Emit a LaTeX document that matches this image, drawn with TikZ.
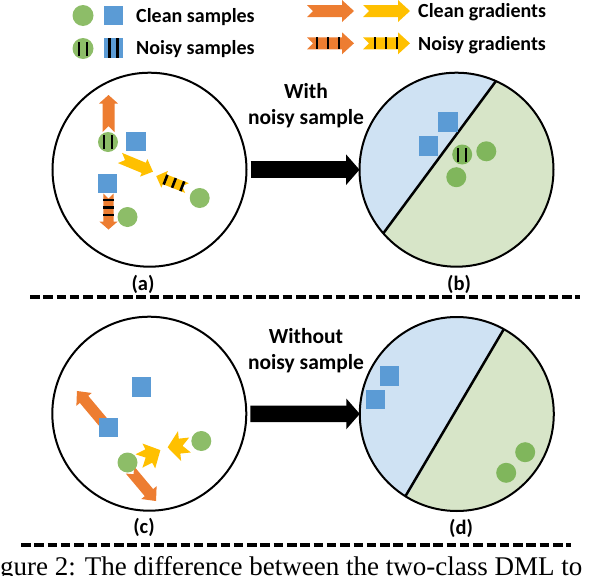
\documentclass[tikz,border=0pt]{standalone}
\usepackage{fontspec}
\newfontfamily\labfont{Carlito}
\newfontfamily\capfont{Liberation Serif}
\usetikzlibrary{positioning,arrows.meta,calc,backgrounds}
\definecolor{sgreen}{RGB}{141,189,104}
\definecolor{sgreenb}{RGB}{128,182,92}
\definecolor{sblue}{RGB}{91,155,213}
\definecolor{gorange}{RGB}{237,125,49}
\definecolor{gyellow}{RGB}{255,192,0}
\definecolor{bgblue}{RGB}{207,226,243}
\definecolor{bggreen}{RGB}{215,229,200}
% block arrow with notched tail, drawn in the pic's own frame
\newcommand{\garrowshape}{%
  \fill[\gcol] (0pt,-\gbody pt) -- (\glen pt-\ghead pt,-\gbody pt)
    -- (\glen pt-\ghead pt,-\gwide pt) -- (\glen pt,0pt)
    -- (\glen pt-\ghead pt,\gwide pt) -- (\glen pt-\ghead pt,\gbody pt)
    -- (0pt,\gbody pt) -- (\gbody pt,0pt) -- cycle;}

\begin{document}
\begin{tikzpicture}[
  x=1pt, y=-1pt,
  font=\labfont\bfseries\fontsize{20}{24}\selectfont,
  clean/.style={circle, fill=sgreen, minimum size=20pt, inner sep=0pt},
  sq/.style={rectangle, fill=sblue, minimum size=19.5pt, inner sep=0pt},
  noisy/.style={path picture={
    \foreach \dx in {-4pt,4pt}
      \fill[black] ([shift={(\dx-1.2pt,-#1)}]path picture bounding box.center)
        rectangle ([shift={(\dx+1.2pt,#1)}]path picture bounding box.center);}},
  noisy/.default=7pt,
  panel/.style={circle, draw, line width=2pt, minimum size=194pt, inner sep=0pt, outer sep=0pt},
  divline/.style={line width=2.5pt},
  bigarr/.style={line width=16.5pt, -{Triangle[length=13.5pt,width=30pt]}, shorten <=4pt},
  sepline/.style={line width=4pt, dash pattern=on 9.5pt off 3.8pt},
  lab/.style={inner sep=0pt, font=\labfont\bfseries\fontsize{20.5}{24}\selectfont},
  legtxt/.style={inner sep=0pt, anchor=west},
  midtxt/.style={inner sep=0pt, align=center, font=\labfont\bfseries\fontsize{21.5}{26}\selectfont},
  gcol/.store in=\gcol, glen/.store in=\glen, ghead/.store in=\ghead,
  gwide/.store in=\gwide, gbody/.store in=\gbody, gstripes/.store in=\gstripes,
  gcol=gorange, glen=47, ghead=12, gwide=11, gbody=6, gstripes={10,21,32},
  garrow/.pic={\garrowshape},
  gnoisy/.pic={
    \garrowshape
    \foreach \s in \gstripes
      \fill[black] (\s pt-1.3pt,-\gbody pt) rectangle (\s pt+1.3pt,\gbody pt);}
]
\useasboundingbox (0,0) rectangle (598,576);
\clip (0,0) rectangle (598,576);

% legend
\node[clean, minimum size=21pt] (lc) at (83,15.5) {};
\node[sq] (ls) at (113.3,15.3) {};
\node[legtxt] (tcs) at (136,17) {Clean samples};
\node[clean, minimum size=21pt, noisy=7pt] (lnc) at (83,48.5) {};
\node[sq, noisy=10pt] (lns) at (113.3,48) {};
\node[legtxt] (tns) at (136,48.7) {Noisy samples};
\pic[gcol=gorange] at (307,11) {garrow};
\pic[gcol=gyellow] at (363,11) {garrow};
\node[legtxt] (tcg) at (418,12.5) {Clean gradients};
\pic[gcol=gorange] at (307,43.3) {gnoisy};
\pic[gcol=gyellow, gstripes={12,23,34}] at (363,43.3) {gnoisy};
\node[legtxt] (tng) at (418,44.8) {Noisy gradients};

% (a) and (b)
\node[panel] (pa) at (149.5,169.7) {};
\pic[rotate=90, glen=37, ghead=8.5, gwide=9.5, gbody=6] at (108.5,132) {garrow};
\pic[rotate=-90, glen=36, ghead=8, gwide=9.2, gbody=5.2, gstripes={6.5,14,21.5}] at (108.5,193.5) {gnoisy};
\pic[gcol=gyellow, rotate=-22.5, glen=35.7, ghead=10, gwide=9.5, gbody=5.5] at (120,158) {garrow};
\pic[gcol=gyellow, rotate=158.8, glen=33, ghead=9, gwide=9, gbody=5.2, gstripes={5,14,23}] at (187,188) {gnoisy};
\node[clean, noisy] (a1) at (108,142) {};
\node[sq] (a2) at (136,141.7) {};
\node[sq] (a3) at (107.7,183.7) {};
\node[clean] (a4) at (199.7,198) {};
\node[clean] (a5) at (127.5,217) {};
\node[lab] (la) at (143,284) {(a)};

\node[panel] (pb) at (456.5,169.7) {};
\begin{scope}[on background layer]
  \fill[bggreen] (pb.center) circle[radius=97pt];
  \fill[bgblue] (pb.66) arc[start angle=66, end angle=221.6, radius=97pt] -- cycle;
\end{scope}
\draw[divline] (pb.66) -- (pb.221.6);
\node[sq] (b1) at (448,122.2) {};
\node[sq] (b2) at (428.3,146.2) {};
\node[clean, fill=sgreenb, noisy] (b3) at (462.2,154.5) {};
\node[clean, fill=sgreenb] (b4) at (486.3,151.3) {};
\node[clean, fill=sgreenb] (b5) at (456.3,177.2) {};
\node[lab] (lb) at (459,284) {(b)};

\draw[bigarr] (pa) -- (pb);
\node[midtxt] (tw) at (306,105.5) {With\\noisy sample};

\draw[sepline] (30,297) -- (580,297);

% (c) and (d)
\node[panel] (pc) at (149.3,413.7) {};
\pic[rotate=130, glen=40.5, ghead=11, gwide=10, gbody=5.5] at (103,422) {garrow};
\pic[rotate=-50, glen=40.5, ghead=11, gwide=10, gbody=5.5] at (130,470) {garrow};
\pic[gcol=gyellow, rotate=27, glen=24, ghead=13, gwide=14, gbody=7.5] at (139,461) {garrow};
\pic[gcol=gyellow, rotate=186, glen=22.5, ghead=12, gwide=15, gbody=7.5] at (190,445) {garrow};
\node[sq] (c1) at (141.3,387.2) {};
\node[sq] (c2) at (108.3,427.7) {};
\node[clean] (c3) at (127.5,462.5) {};
\node[clean] (c4) at (201.3,441) {};
\node[lab] (lc) at (144,527) {(c)};

\node[panel] (pd) at (456.8,414) {};
\begin{scope}[on background layer]
  \fill[bggreen] (pd.center) circle[radius=97pt];
  \fill[bgblue] (pd.61.3) arc[start angle=61.3, end angle=238.7, radius=97pt] -- cycle;
\end{scope}
\draw[divline] (pd.61.3) -- (pd.238.7);
\node[sq] (d1) at (389.5,375.8) {};
\node[sq] (d2) at (375.5,399.7) {};
\node[clean, fill=sgreenb] (d3) at (525.2,452.2) {};
\node[clean, fill=sgreenb] (d4) at (506.2,472.8) {};
\node[lab] (ld) at (461,528) {(d)};

\draw[bigarr] (pc) -- (pd);
\node[midtxt] (two) at (306,350.5) {Without\\noisy sample};

\draw[sepline] (21,545) -- (571,545);

\node[anchor=base west, inner sep=0pt, font=\capfont\fontsize{27}{32}\selectfont] (cap) at (-22.5,575)
  {Figure 2: The difference between the two-class DML to};
\end{tikzpicture}
\end{document}
